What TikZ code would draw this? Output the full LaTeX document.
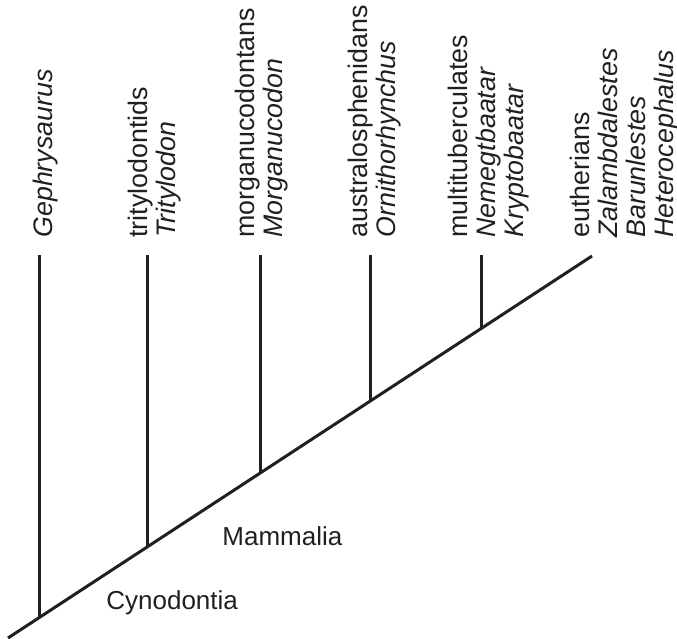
\documentclass[tikz,border=0pt]{standalone}
\usepackage{fontspec}
\setmainfont{Liberation Sans}
\definecolor{ink}{RGB}{35,31,32}
\begin{document}
\begin{tikzpicture}[x=0.5pt, y=-0.5pt, line join=round, ink,
  branch/.style={line width=1.5pt},
  taxon/.style={rotate=90, anchor=north west, inner sep=0pt, align=left, font=\fontsize{13.4}{14}\selectfont},
  clade/.style={anchor=base west, inner sep=0pt, font=\fontsize{13}{14}\selectfont}]
\useasboundingbox (0,0) rectangle (677,639);
\path (8,638) coordinate (root)
  (592,256) coordinate (tip)
  (0,255) coordinate (top);
\draw[branch] (root) -- (tip);
\foreach \n/\x in {1/40, 2/148, 3/261, 4/371, 5/482} {
  \path (root) -- (tip) coordinate[pos={(\x-8)/584}] (b\n);
  \draw[branch] (b\n) -- (b\n |- top);
}
% taxa
\node[taxon] (gephry) at (33,238) {\textit{Gephrysaurus}};
\node[taxon] (trityl) at (128,238) {tritylodontids\\ \textit{Tritylodon}};
\node[taxon] (morgan) at (235,238) {morganucodontans\\ \textit{Morganucodon}};
\node[taxon] (austral) at (348,238) {australosphenidans\\ \textit{Ornithorhynchus}};
\node[taxon] (multi) at (448,238) {multituberculates\\ \textit{Nemegtbaatar}\\ \textit{Kryptobaatar}};
\node[taxon] (euther) at (570,238) {eutherians\\ \textit{Zalambdalestes}\\ \textit{Barunlestes}\\ \textit{Heterocephalus}};
% clades
\node[clade] (mammalia) at (222,545) {Mammalia};
\node[clade] (cynodontia) at (106,609) {Cynodontia};
\end{tikzpicture}
\end{document}
